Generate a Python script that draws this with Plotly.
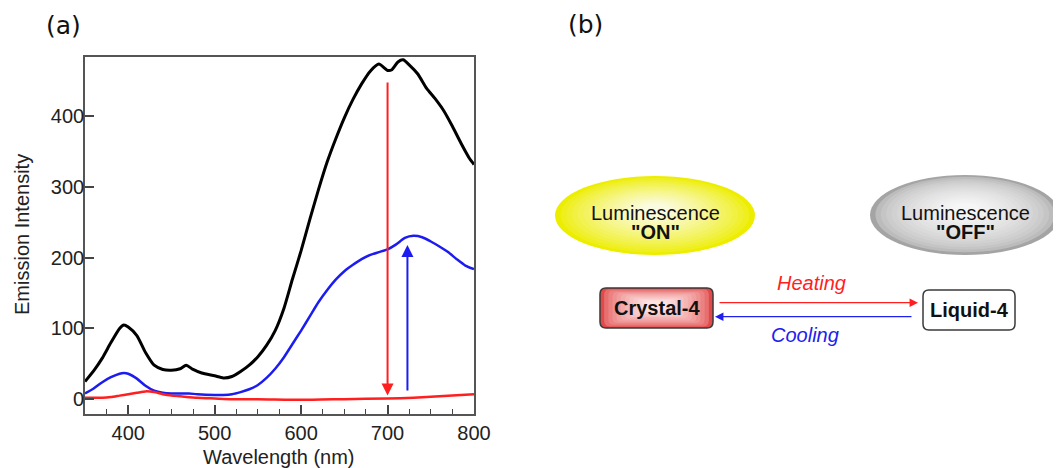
import plotly.graph_objects as go

# ---------------- data ----------------
wl_black = [350, 360, 370, 380, 390, 395, 400, 410, 420, 430, 440, 450, 460, 467, 475, 485,
            500, 510, 520, 530, 540, 550, 560, 570, 580, 590, 600, 610, 620, 630, 640, 650,
            660, 670, 680, 690, 700, 705, 712, 718, 725, 735, 745, 755, 765, 775, 785, 795, 800]
int_black = [25, 40, 58, 80, 100, 105, 102, 90, 66, 48, 42, 41, 43, 48, 42, 37,
             33, 30, 32, 39, 48, 60, 76, 97, 128, 170, 210, 254, 296, 335, 368, 398,
             424, 446, 464, 474, 465, 466, 477, 480, 473, 460, 440, 425, 408, 386, 362, 340, 332]

wl_blue = [350, 360, 370, 380, 390, 395, 400, 410, 420, 430, 440, 450, 460, 470, 480, 500,
           510, 520, 530, 540, 550, 560, 570, 580, 590, 600, 610, 620, 630, 640, 650, 660,
           670, 680, 690, 700, 710, 720, 730, 740, 750, 760, 770, 780, 790, 800]
int_blue = [8, 15, 24, 31, 36, 37, 36, 29, 19, 12, 9, 8, 8, 8, 7, 6,
            6, 7, 10, 14, 20, 30, 43, 59, 78, 97, 117, 137, 154, 169, 181, 190,
            198, 204, 208, 212, 219, 228, 231, 229, 223, 216, 208, 198, 189, 184]

wl_red = [350, 370, 380, 390, 400, 410, 420, 430, 440, 450, 460, 480, 500, 520, 550,
          600, 650, 700, 730, 760, 800]
int_red = [2, 2, 3, 5, 7, 9, 11, 10, 7, 5, 4, 2, 1, 0, 0,
           -1, 0, 1, 2, 4, 7]

# arrows in panel (a): (x, tail, tip)
heat_arrow = (700, 450, 5)
cool_arrow = (723, 10, 218)

x_ticks = [400, 500, 600, 700, 800]
y_ticks = [0, 100, 200, 300, 400]

# ---------------- figure ----------------
# the page body has an 8px margin: the figure is offset by it
OFF = 8
W, H = 1061 - OFF, 468 - OFF


def P(x):
    return (x - OFF) / W


def Q(y):
    return 1 - (y - OFF) / H


FONT = "Liberation Sans, Arial, Helvetica, sans-serif"

fig = go.Figure()
fig.add_trace(go.Scatter(x=wl_black, y=int_black, mode="lines",
                         line=dict(color="#000000", width=3, shape="spline", smoothing=0.6),
                         showlegend=False, hoverinfo="skip"))
fig.add_trace(go.Scatter(x=wl_blue, y=int_blue, mode="lines",
                         line=dict(color="#1c1cf0", width=2.5, shape="spline", smoothing=0.6),
                         showlegend=False, hoverinfo="skip"))
fig.add_trace(go.Scatter(x=wl_red, y=int_red, mode="lines",
                         line=dict(color="#ff1f1f", width=2.5, shape="spline", smoothing=0.6),
                         showlegend=False, hoverinfo="skip"))

fig.update_layout(
    template="none",
    width=W, height=H, autosize=False,
    margin=dict(l=0, r=0, t=0, b=0, pad=0),
    paper_bgcolor="white", plot_bgcolor="white",
    xaxis=dict(domain=[P(85), P(474)], range=[350, 800], tickvals=x_ticks, automargin=False,
               ticks="inside", ticklen=9, tickwidth=1.5, tickcolor="#444",
               minor=dict(dtick=25, tick0=350, ticks="inside", ticklen=5, tickwidth=1.2, tickcolor="#444"),
               showline=True, mirror=True, linecolor="#555", linewidth=1.6,
               showgrid=False, zeroline=False,
               tickfont=dict(family=FONT, size=20, color="#222")),
    yaxis=dict(domain=[Q(414), Q(57)], range=[-21, 484], tickvals=y_ticks, automargin=False,
               ticks="inside", ticklen=9, tickwidth=1.5, tickcolor="#444",
               showline=True, mirror=True, linecolor="#555", linewidth=1.6,
               showgrid=False, zeroline=False, ticklabelstandoff=-5,
               tickfont=dict(family=FONT, size=20, color="#222")),
)


def text_ann(x, y, text, size=20, color="#111", family=FONT, angle=0):
    return dict(xref="paper", yref="paper", x=P(x), y=Q(y), text=text, showarrow=False,
                textangle=angle, font=dict(family=family, size=size, color=color),
                xanchor="center", yanchor="middle")


ann = []
# axis titles
ann.append(text_ann(279, 457, "Wavelength (nm)", color="#222"))
ann.append(text_ann(22, 235, "Emission Intensity", color="#222", angle=-90))
# panel labels
ann.append(text_ann(63, 25, "(a)", size=25, family="DejaVu Sans"))
ann.append(text_ann(585, 24, "(b)", size=25, family="DejaVu Sans"))

# vertical arrows in panel (a)
ann.append(dict(xref="x", yref="y", axref="x", ayref="y",
                x=heat_arrow[0], y=heat_arrow[2], ax=heat_arrow[0], ay=heat_arrow[1],
                text="", showarrow=True, arrowhead=2, arrowsize=1.2, arrowwidth=2,
                arrowcolor="#ff1f1f"))
ann.append(dict(xref="x", yref="y", axref="x", ayref="y",
                x=cool_arrow[0], y=cool_arrow[2], ax=cool_arrow[0], ay=cool_arrow[1],
                text="", showarrow=True, arrowhead=2, arrowsize=1.2, arrowwidth=2,
                arrowcolor="#1c1cf0"))

shapes = []


def lerp_color(c0, c1, t):
    a = [int(c0[i:i + 2], 16) for i in (1, 3, 5)]
    b = [int(c1[i:i + 2], 16) for i in (1, 3, 5)]
    return "rgb(%d,%d,%d)" % tuple(round(a[k] + (b[k] - a[k]) * t) for k in range(3))


def gradient_ellipse(cx, cy, rx, ry, c_out, c_in, n=16, shift=-6, shrink=0.85, gamma=0.7):
    for i in range(n):
        t = i / (n - 1)
        s = 1 - shrink * t
        ccy = cy + shift * t
        shapes.append(dict(type="circle", xref="paper", yref="paper",
                           x0=P(cx - rx * s), x1=P(cx + rx * s),
                           y0=Q(ccy + ry * s), y1=Q(ccy - ry * s),
                           fillcolor=lerp_color(c_out, c_in, t ** gamma),
                           line=dict(width=0), layer="above"))


def rrect_path(x0, y0, x1, y1, r):
    pts = [
        ("M", P(x0 + r), Q(y0)),
        ("L", P(x1 - r), Q(y0)),
        ("Q", P(x1), Q(y0), P(x1), Q(y0 + r)),
        ("L", P(x1), Q(y1 - r)),
        ("Q", P(x1), Q(y1), P(x1 - r), Q(y1)),
        ("L", P(x0 + r), Q(y1)),
        ("Q", P(x0), Q(y1), P(x0), Q(y1 - r)),
        ("L", P(x0), Q(y0 + r)),
        ("Q", P(x0), Q(y0), P(x0 + r), Q(y0)),
    ]
    s = ""
    for p in pts:
        nums = p[1:]
        s += p[0] + " " + ",".join("%.5f" % v for v in nums[:2])
        if len(nums) > 2:
            s += " " + ",".join("%.5f" % v for v in nums[2:])
        s += " "
    return s + "Z"


gradient_ellipse(655, 215.5, 100, 39.5, "#eded00", "#fbfbe0", gamma=0.75)
gradient_ellipse(965, 215, 95, 40, "#a4a4a4", "#f6f6f6", gamma=0.45)

# Crystal-4 box with gradient
cx0, cy0, cx1, cy1 = 600, 288, 713, 328
n = 12
for i in range(n):
    t = i / (n - 1)
    ix = 54 * t * 0.85
    iy = 18 * t * 0.85
    shapes.append(dict(type="path", xref="paper", yref="paper",
                       path=rrect_path(cx0 + ix, cy0 + iy - 2 * t, cx1 - ix, cy1 - iy - 2 * t,
                                       max(1.5, 6 - 4 * t)),
                       fillcolor=lerp_color("#e24a4a", "#fde4e4", t ** 0.6),
                       line=dict(width=0), layer="above"))
shapes.append(dict(type="path", xref="paper", yref="paper",
                   path=rrect_path(cx0, cy0, cx1, cy1, 6),
                   fillcolor="rgba(0,0,0,0)", line=dict(color="#3a3a3a", width=1.5), layer="above"))
# Liquid-4 box
shapes.append(dict(type="path", xref="paper", yref="paper",
                   path=rrect_path(923, 290, 1015, 330, 6),
                   fillcolor="white", line=dict(color="#3a3a3a", width=1.5), layer="above"))

# texts of panel (b)
ann.append(text_ann(655, 213, "Luminescence"))
ann.append(text_ann(655, 231.5, "<b>\"ON\"</b>"))
ann.append(text_ann(965, 213, "Luminescence"))
ann.append(text_ann(965, 231.5, "<b>\"OFF\"</b>"))
ann.append(text_ann(656.5, 308, "<b>Crystal-4</b>"))
ann.append(text_ann(969, 310, "<b>Liquid-4</b>"))
ann.append(text_ann(811, 283, "<i>Heating</i>", color="#ff1f1f"))
ann.append(text_ann(805, 335, "<i>Cooling</i>", color="#2020ee"))

# horizontal arrows of panel (b)
ann.append(dict(xref="paper", yref="paper", x=P(918), y=Q(302.7), ax=-200, ay=0,
                text="", showarrow=True, arrowhead=2, arrowsize=1.3, arrowwidth=1.3,
                arrowcolor="#ff1f1f"))
ann.append(dict(xref="paper", yref="paper", x=P(715), y=Q(316.7), ax=198, ay=0,
                text="", showarrow=True, arrowhead=2, arrowsize=1.3, arrowwidth=1.3,
                arrowcolor="#2020ee"))

fig.update_layout(annotations=ann, shapes=shapes)
fig.write_html("out.html")
